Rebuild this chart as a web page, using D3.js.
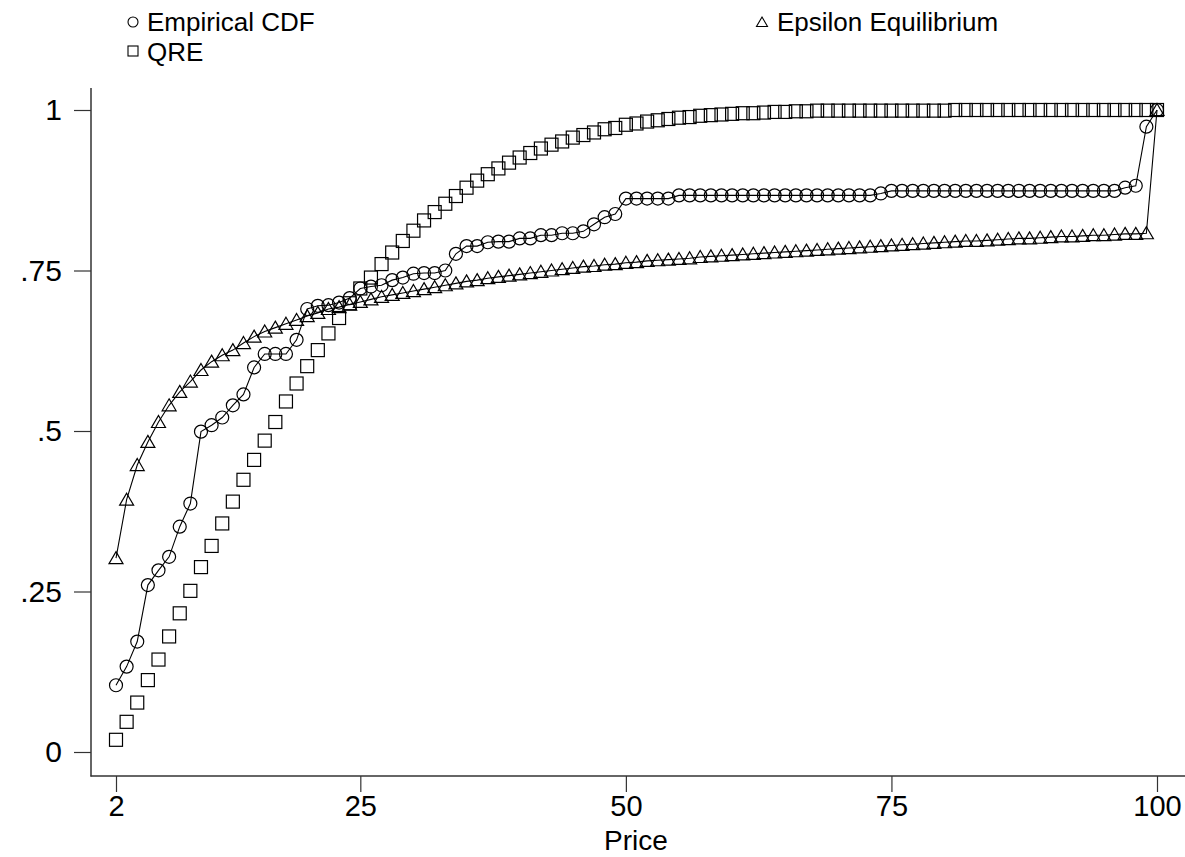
<!DOCTYPE html>
<html>
<head>
<meta charset="utf-8">
<script src="https://cdn.jsdelivr.net/npm/d3@7"></script>
<style>
  body { margin: 0; background: #fff; }
  svg { display: block; font-family: "Liberation Sans", Arial, Helvetica, sans-serif; }
</style>
</head>
<body>
<script>
// prices 2..100
var prices = [2,3,4,5,6,7,8,9,10,11,12,13,14,15,16,17,18,19,20,21,22,23,24,25,26,27,28,29,30,31,
  32,33,34,35,36,37,38,39,40,41,42,43,44,45,46,47,48,49,50,51,52,53,54,55,56,57,58,59,60,61,
  62,63,64,65,66,67,68,69,70,71,72,73,74,75,76,77,78,79,80,81,82,83,84,85,86,87,88,89,90,91,
  92,93,94,95,96,97,98,99,100];

var empirical = [.104,.133,.172,.260,.283,.304,.351,.387,.499,.509,.521,.540,.557,.599,.620,.620,.620,.642,.690,.695,
  .696,.700,.707,.722,.725,.727,.735,.739,.745,.746,.746,.750,.776,.788,.788,.794,.795,.795,.800,.800,
  .805,.805,.808,.808,.811,.822,.833,.838,.862,.862,.862,.862,.862,.867,.867,
  .867,.867,.867,.867,.867,.867,.867,.867,.867,.867,.867,.867,.867,.867,.867,.867,.867,
  .870,
  .874,.874,.874,.874,.874,.874,.874,.874,.874,.874,.874,.874,.874,.874,.874,.874,.874,.874,.874,.874,.874,.874,
  .879,.882,.974,1];

var epsilon = [.302,.393,.447,.483,.514,.540,.561,.577,.595,.608,.618,.626,.637,.647,.655,.661,.667,.673,.679,.684,.690,
  .693,.697,.701,.705,.709,.712,.715,.718,.721,.724,
  .727,.730,.733,.735,.738,.740,.742,.744,.746,.748,
  .750,.752,.754,.756,.757,.759,.760,.762,.763,.765,
  .766,.767,.768,.769,.771,.772,.773,.774,.775,.776,
  .777,.778,.779,.780,.781,.782,.783,.784,.785,.786,
  .787,.788,.789,.790,.791,.792,.793,.794,.795,.796,
  .796,.797,.798,.799,.800,.800,.801,.802,.803,.803,
  .804,.805,.805,.806,.807,.807,.808,
  1];

var qre = [.019,.047,.077,.112,.144,.180,.216,.251,.288,.321,.356,.390,.424,.455,.485,.514,.546,.574,.601,.626,.652,.676,.699,
  .722,.739,.760,.778,.796,.812,.828,.841,.854,.866,.879,.890,.900,.909,.918,.926,.933,.940,.946,.951,.957,.961,.965,.970,.972,.977,.979,.982,.984,.986,.988,.989,.991,
  .992,.993,.994,.995,.995,.996,.997,.997,.998,.998,
  .999,.999,.999,.999,.999,.999,.999,.999,.999,.999,.999,.999,.999,
  1,1,1,1,1,1,1,1,1,1,1,1,1,1,1,1,1,1,1,1];

var xTicks = [2, 25, 50, 75, 100];
var yTicks = [0, .25, .5, .75, 1];
var yTickLabels = ["0", ".25", ".5", ".75", "1"];
var legendNames = ["Empirical CDF", "Epsilon Equilibrium", "QRE"];

var width = 1185, height = 857;

var svg = d3.select("body").append("svg")
    .attr("width", width)
    .attr("height", height);

var x = d3.scaleLinear().domain([2, 100]).range([116, 1157]);
var y = d3.scaleLinear().domain([0, 1]).range([752, 110]);

// axes
var axisColor = "#333";

var xAxis = svg.append("g")
    .attr("transform", "translate(0,776)")
    .call(d3.axisBottom(x).tickValues(xTicks).tickSize(16).tickPadding(3).tickFormat(d3.format("d")));
xAxis.select(".domain").remove();
xAxis.selectAll(".tick line").attr("stroke", axisColor).attr("stroke-width", 1.2);
xAxis.selectAll(".tick text")
    .attr("fill", "#000")
    .attr("font-size", "29px")
    .attr("font-family", null);

var yAxis = svg.append("g")
    .attr("transform", "translate(91,0)")
    .call(d3.axisLeft(y).tickValues(yTicks).tickSize(17).tickPadding(12)
      .tickFormat(function(d, i) { return yTickLabels[i]; }));
yAxis.select(".domain").remove();
yAxis.selectAll(".tick line").attr("stroke", axisColor).attr("stroke-width", 1.2);
yAxis.selectAll(".tick text")
    .attr("fill", "#000")
    .attr("font-size", "30px")
    .attr("font-family", null);

// frame lines (left and bottom only)
svg.append("line")
    .attr("x1", 91).attr("x2", 91).attr("y1", 88).attr("y2", 776.5)
    .attr("stroke", axisColor).attr("stroke-width", 1.5);
svg.append("line")
    .attr("x1", 90.5).attr("x2", 1185).attr("y1", 776).attr("y2", 776)
    .attr("stroke", axisColor).attr("stroke-width", 1.5);

svg.append("text")
    .attr("x", 636).attr("y", 850)
    .attr("text-anchor", "middle")
    .attr("font-size", "28px")
    .text("Price");

// series
function pts(vals) {
  return prices.map(function(p, i) { return {p: p, v: vals[i]}; });
}

var line = d3.line()
    .x(function(d) { return x(d.p); })
    .y(function(d) { return y(d.v); });

var plot = svg.append("g");

var triPath = "M0,-6.5L7,5.5L-7,5.5Z";

plot.append("path")
    .datum(pts(empirical))
    .attr("d", line)
    .attr("fill", "none").attr("stroke", "#000").attr("stroke-width", 1.1);

plot.append("path")
    .datum(pts(epsilon))
    .attr("d", line)
    .attr("fill", "none").attr("stroke", "#000").attr("stroke-width", 1.1);

plot.selectAll(".circ")
    .data(pts(empirical))
  .enter().append("circle")
    .attr("class", "circ")
    .attr("cx", function(d) { return x(d.p); })
    .attr("cy", function(d) { return y(d.v); })
    .attr("r", 6.5)
    .attr("fill", "none").attr("stroke", "#000").attr("stroke-width", 1.2);

plot.selectAll(".tri")
    .data(pts(epsilon))
  .enter().append("path")
    .attr("class", "tri")
    .attr("transform", function(d) { return "translate(" + x(d.p) + "," + y(d.v) + ")"; })
    .attr("d", triPath)
    .attr("fill", "none").attr("stroke", "#000").attr("stroke-width", 1.2);

plot.selectAll(".sq")
    .data(pts(qre))
  .enter().append("rect")
    .attr("class", "sq")
    .attr("x", function(d) { return x(d.p) - 6.5; })
    .attr("y", function(d) { return y(d.v) - 6.5; })
    .attr("width", 13).attr("height", 13)
    .attr("fill", "none").attr("stroke", "#000").attr("stroke-width", 1.2);

// legend
var legend = svg.append("g").attr("font-size", "26px");

legend.append("circle")
    .attr("cx", 133).attr("cy", 22).attr("r", 5)
    .attr("fill", "none").attr("stroke", "#000").attr("stroke-width", 1.1);
legend.append("text").attr("x", 147).attr("y", 31).text(legendNames[0]);

legend.append("path")
    .attr("transform", "translate(762,22)")
    .attr("d", "M0,-5L5.5,4.5L-5.5,4.5Z")
    .attr("fill", "none").attr("stroke", "#000").attr("stroke-width", 1.1);
legend.append("text").attr("x", 777).attr("y", 31).text(legendNames[1]);

legend.append("rect")
    .attr("x", 128).attr("y", 46).attr("width", 10).attr("height", 10)
    .attr("fill", "none").attr("stroke", "#000").attr("stroke-width", 1.1);
legend.append("text").attr("x", 147).attr("y", 61).text(legendNames[2]);
</script>
</body>
</html>
